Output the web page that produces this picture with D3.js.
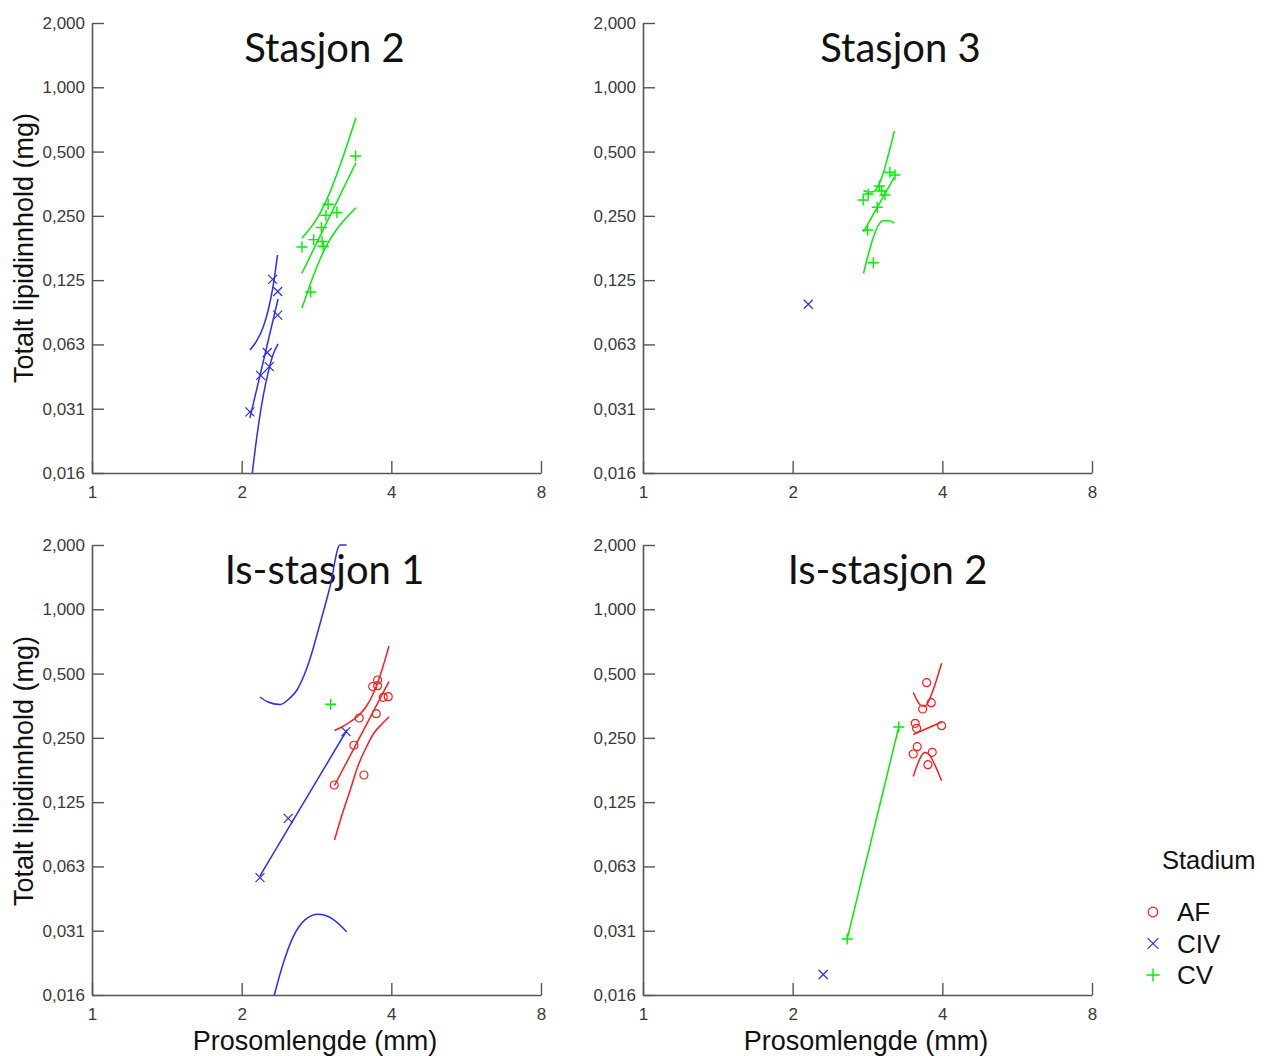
<!DOCTYPE html>
<html><head><meta charset="utf-8">
<script src="https://cdn.jsdelivr.net/npm/d3@7"></script>
<style>body{margin:0;background:#fff} svg{display:block}</style>
</head><body>
<svg id="chart" width="1268" height="1056"></svg>
<script>
// ---------- data ----------
const xTicks = [1, 2, 4, 8];
const xTickLabels = ["1", "2", "4", "8"];
const yTicks = [2, 1, 0.5, 0.25, 0.125, 0.0625, 0.03125, 0.015625];
const yTickLabels = ["2,000", "1,000", "0,500", "0,250", "0,125", "0,063", "0,031", "0,016"];
const panelTitles = ["Stasjon 2", "Stasjon 3", "Is-stasjon 1", "Is-stasjon 2"];
const stages = ["AF", "CIV", "CV"];

// Stasjon 2
const st2CIV = [[2.309,0.126],[2.363,0.1106],[2.363,0.0857],[2.252,0.0573],[2.273,0.0492],[2.184,0.0448],[2.078,0.0302]];
const st2CIVfit = [[2.078,0.0283],[2.367,0.102]];
const st2CIVup = [[2.078,0.0589],[2.144,0.0649],[2.210,0.0754],[2.262,0.0906],[2.312,0.1161],[2.361,0.1639]];
const st2CIVlo = [[2.101,0.015625],[2.144,0.0228],[2.210,0.0359],[2.262,0.0464],[2.312,0.0558],[2.367,0.0628]];
const st2CV = [[3.390,0.4767],[2.985,0.2835],[2.955,0.2516],[3.109,0.2593],[2.894,0.2205],[2.792,0.1934],[2.903,0.1896],[2.918,0.1801],[2.644,0.1788],[2.753,0.1100]];
const st2CVfit = [[2.644,0.1347],[3.395,0.4434]];
const st2CVup = [[2.644,0.1965],[2.769,0.2244],[2.874,0.2570],[2.982,0.3067],[3.095,0.3814],[3.242,0.5185],[3.395,0.7203]];
const st2CVlo = [[2.644,0.0924],[2.769,0.1256],[2.874,0.1562],[2.982,0.1864],[3.095,0.2135],[3.242,0.2438],[3.395,0.2731]];

// Stasjon 3
const st3CIV = [[2.150,0.0964]];
const st3CV = [[3.138,0.3999],[3.212,0.3884],[2.987,0.3450],[3.020,0.3269],[3.067,0.3131],[2.838,0.3165],[2.773,0.2966],[2.959,0.2742],[2.830,0.2147],[2.905,0.1509]];
const st3CVfit = [[2.776,0.2101],[3.204,0.3802]];
const st3CVup = [[2.776,0.3287],[2.834,0.3234],[2.901,0.3245],[2.969,0.3428],[3.038,0.3927],[3.109,0.4742],[3.204,0.6238]];
const st3CVlo = [[2.776,0.1343],[2.834,0.1622],[2.901,0.1959],[2.969,0.2241],[3.038,0.2371],[3.109,0.2378],[3.204,0.2315]];

// Is-stasjon 1
const is1AF = [[3.754,0.4666],[3.669,0.4350],[3.754,0.4388],[3.853,0.3872],[3.943,0.3897],[3.447,0.3097],[3.730,0.3244],[3.364,0.2308],[3.523,0.1675],[3.071,0.1504]];
const is1AFfit = [[3.074,0.1496],[3.956,0.4581]];
const is1AFup = [[3.074,0.2707],[3.182,0.2811],[3.302,0.2966],[3.427,0.3165],[3.556,0.3487],[3.691,0.4100],[3.830,0.5197],[3.956,0.6731]];
const is1AFlo = [[3.074,0.0831],[3.182,0.1088],[3.302,0.1410],[3.427,0.1846],[3.556,0.2241],[3.691,0.2635],[3.830,0.2903],[3.956,0.3131]];
const is1CIV = [[3.242,0.2672],[2.481,0.1050],[2.177,0.0554]];
const is1CIVfit = [[2.177,0.0564],[3.257,0.2721]];
const is1CIVup = [[2.177,0.3884],[2.259,0.3680],[2.388,0.3582],[2.501,0.3843],[2.584,0.4189],[2.656,0.4767],[2.744,0.5855],[2.874,0.8534],[3.010,1.2717],[3.153,2.0],[3.252,2.0]];
const is1CIVlo = [[2.326,0.015625],[2.425,0.0220],[2.540,0.0293],[2.681,0.0351],[2.851,0.0373],[3.034,0.0357],[3.252,0.0309]];
const is1CV = [[3.020,0.3590]];

// Is-stasjon 2
const is2AF = [[3.720,0.4532],[3.800,0.3653],[3.652,0.3413],[3.528,0.2925],[3.551,0.2772],[3.987,0.2851],[3.561,0.2273],[3.496,0.2101],[3.817,0.2140],[3.742,0.1872]];
const is2AFfit = [[3.496,0.2593],[3.987,0.2966]];
const is2AFup = [[3.496,0.4077],[3.556,0.3760],[3.623,0.3540],[3.691,0.3514],[3.760,0.3736],[3.830,0.4162],[3.901,0.4737],[3.987,0.5584]];
const is2AFlo = [[3.496,0.1648],[3.556,0.1850],[3.623,0.2043],[3.691,0.2135],[3.760,0.2087],[3.830,0.1948],[3.901,0.1776],[3.987,0.1575]];
const is2CIV = [[2.304,0.0195]];
const is2CV = [[3.269,0.2811],[2.575,0.0286]];
const is2CVfit = [[2.575,0.0286],[3.269,0.2811]];

// ---------- styles / layout ----------
const colors = {AF: "#ff1a1a", CIV: "#2b2bff", CV: "#00ee00"};
const W = 449, H = 450;
const layout = [
  {x0: 92, y0: 23, tx: 324.5},
  {x0: 643, y0: 23, tx: 900.5},
  {x0: 92, y0: 545, tx: 324.5},
  {x0: 643, y0: 545, tx: 887.5}
];
const panels = [
  {points: {CIV: st2CIV, CV: st2CV},
   lines: [["CIV", st2CIVfit], ["CIV", st2CIVup], ["CIV", st2CIVlo], ["CV", st2CVfit], ["CV", st2CVup], ["CV", st2CVlo]]},
  {points: {CIV: st3CIV, CV: st3CV},
   lines: [["CV", st3CVfit], ["CV", st3CVup], ["CV", st3CVlo]]},
  {points: {AF: is1AF, CIV: is1CIV, CV: is1CV},
   lines: [["CIV", is1CIVfit], ["CIV", is1CIVup], ["CIV", is1CIVlo], ["AF", is1AFfit], ["AF", is1AFup], ["AF", is1AFlo]]},
  {points: {AF: is2AF, CIV: is2CIV, CV: is2CV},
   lines: [["CV", is2CVfit], ["AF", is2AFfit], ["AF", is2AFup], ["AF", is2AFlo]]}
];

const svg = d3.select("#chart");
const axisFont = "'Liberation Sans', Arial, sans-serif";

function drawMarker(sel, stage, s) {
  const c = colors[stage];
  s = s || 1;
  if (stage === "AF") {
    sel.append("circle").attr("r", 4 * s).attr("fill", "none").attr("stroke", c).attr("stroke-width", 1.2);
  } else if (stage === "CIV") {
    const a = 4.5 * s;
    sel.append("path").attr("d", `M${-a},${-a}L${a},${a}M${-a},${a}L${a},${-a}`).attr("fill", "none").attr("stroke", c).attr("stroke-width", 1.2);
  } else {
    const a = 5.5 * s;
    sel.append("path").attr("d", `M${-a},0H${a}M0,${-a}V${a}`).attr("fill", "none").attr("stroke", c).attr("stroke-width", 1.4);
  }
}

panels.forEach((p, i) => {
  const L = layout[i];
  const x = d3.scaleLog().base(2).domain([1, 8]).range([L.x0, L.x0 + W]);
  const y = d3.scaleLog().base(2).domain([0.015625, 2]).range([L.y0 + H, L.y0]);
  const g = svg.append("g");

  const ya = d3.axisLeft(y).tickValues(yTicks).tickSize(-12).tickSizeOuter(0).tickPadding(7)
    .tickFormat((d, j) => yTickLabels[j]);
  const xa = d3.axisBottom(x).tickValues(xTicks).tickSize(-12).tickSizeOuter(0).tickPadding(13)
    .tickFormat((d, j) => xTickLabels[j]);

  const gy = g.append("g").attr("transform", `translate(${L.x0},0)`).call(ya);
  const gx = g.append("g").attr("transform", `translate(0,${L.y0 + H})`).call(xa);
  [gy, gx].forEach(a => {
    a.attr("font-family", axisFont).attr("font-size", 17);
    a.select(".domain").attr("stroke", "#555").attr("stroke-width", 1.6);
    a.selectAll(".tick line").attr("stroke", "#555").attr("stroke-width", 1.4);
    a.selectAll(".tick text").attr("fill", "#3a3a3a");
  });

  // title
  g.append("text").attr("x", L.tx).attr("y", L.y0 + 39).attr("text-anchor", "middle")
    .attr("font-family", "Lato, 'Open Sans', sans-serif").attr("font-size", 40).attr("fill", "#111")
    .text(panelTitles[i]);

  // lines
  const line = d3.line().x(d => x(d[0])).y(d => y(d[1])).curve(d3.curveMonotoneX);
  p.lines.forEach(([stage, pts]) => {
    g.append("path").attr("d", line(pts)).attr("fill", "none")
      .attr("stroke", colors[stage]).attr("stroke-width", 1.5);
  });

  // points
  stages.forEach(stage => {
    const pts = p.points[stage];
    if (!pts) return;
    pts.forEach(d => {
      const m = g.append("g").attr("transform", `translate(${x(d[0])},${y(d[1])})`);
      drawMarker(m, stage);
    });
  });
});

// axis titles
const titleFont = "'Liberation Sans', Arial, sans-serif";
[248, 771].forEach(cy => {
  svg.append("text").attr("transform", `translate(33,${cy}) rotate(-90)`).attr("text-anchor", "middle")
    .attr("font-family", titleFont).attr("font-size", 27).attr("fill", "#111").text("Totalt lipidinnhold (mg)");
});
[315, 866].forEach(cx => {
  svg.append("text").attr("x", cx).attr("y", 1050).attr("text-anchor", "middle")
    .attr("font-family", titleFont).attr("font-size", 27).attr("fill", "#111").text("Prosomlengde (mm)");
});

// legend
const lg = svg.append("g");
lg.append("text").attr("x", 1162).attr("y", 869).attr("font-family", titleFont).attr("font-size", 25.5)
  .attr("fill", "#111").text("Stadium");
stages.forEach((s, k) => {
  const cy = 912 + k * 31.5;
  const m = lg.append("g").attr("transform", `translate(1153,${cy})`);
  drawMarker(m, s, 1.2);
  lg.append("text").attr("x", 1177).attr("y", cy + 9).attr("font-family", titleFont).attr("font-size", 26)
    .attr("fill", "#111").text(s);
});
</script>
</body></html>
